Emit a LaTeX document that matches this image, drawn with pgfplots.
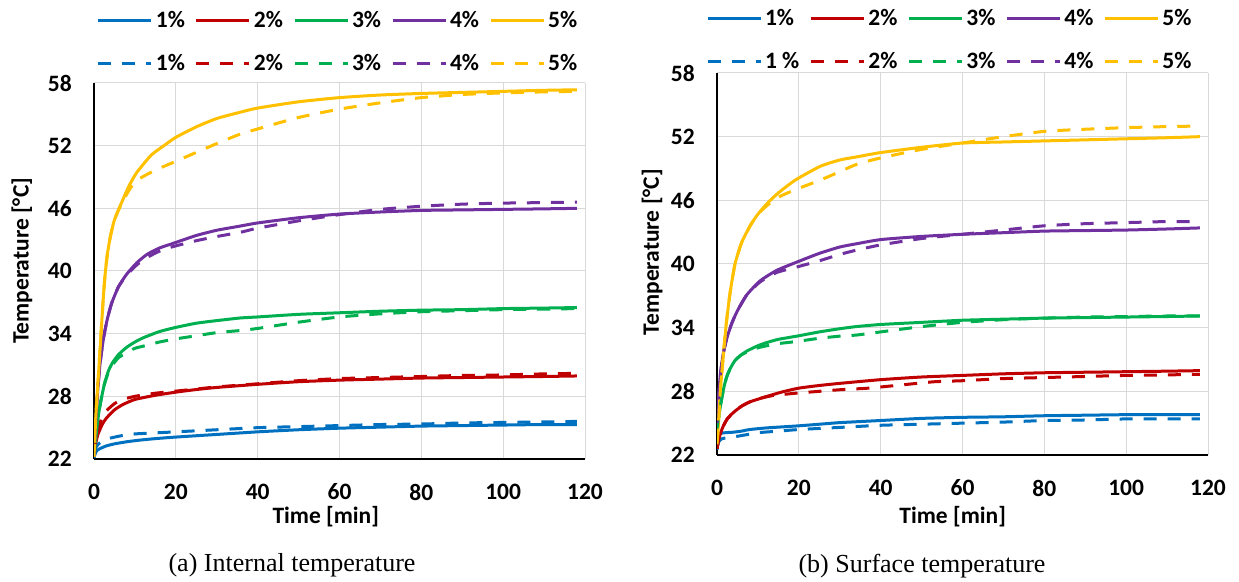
\documentclass[border=0pt]{standalone}
\usepackage{fontspec}
\setmainfont{Liberation Serif}
\newfontfamily\carl{Carlito}
\usepackage{pgfplots}
\pgfplotsset{compat=1.18}
\definecolor{c1}{HTML}{0070C0}
\definecolor{c2}{HTML}{C00000}
\definecolor{c3}{HTML}{00B050}
\definecolor{c4}{HTML}{7030A0}
\definecolor{c5}{HTML}{FFC000}
\definecolor{gridc}{HTML}{D9D9D9}
\newcommand\cf{\carl\bfseries\fontsize{23.5}{27}\selectfont}
\pgfplotsset{
 mystyle/.style={
  scale only axis, width=491pt,
  xmin=0, xmax=120, ymin=22, ymax=58,
  xtick={0,20,...,120}, ytick={22,28,...,58},
  grid=major, major grid style={gridc, line width=1pt},
  axis x line*=bottom, axis y line*=left,
  axis line style={black, line width=2pt, -},
  major tick length=0pt,
  tick label style={font=\cf},
  /pgf/number format/assume math mode=true,
  xticklabel style={anchor=center, inner sep=0pt, yshift=-33pt},
  yticklabel style={anchor=east, inner sep=0pt, xshift=-22pt},
  label style={font=\cf},
  xlabel={Time [min]}, ylabel={Temperature [°C]},
  legend columns=5, legend cell align=left,
  legend image code/.code={\draw[##1] (0pt,0pt) -- (53pt,0pt);},
  legend style={draw=none, fill=none, inner sep=0pt, outer sep=0pt, font=\cf, row sep=25pt, nodes={inner sep=0pt}, /tikz/every odd column/.append style={column sep=3pt}, /tikz/every even column/.append style={column sep=10pt}, anchor=north west},
  every axis plot/.append style={line width=3pt, line join=round, smooth, tension=0.35},
 },
 dsh/.style={dash pattern=on 13pt off 11pt},
}
\begin{document}
\begin{tikzpicture}
\path (0,0) rectangle (1239pt,581pt);
\begin{axis}[mystyle, at={(94pt,122pt)}, anchor=south west, height=376pt,
  xlabel style={at={(axis description cs:0.472,-0.154)}, anchor=center},
  ylabel style={at={(axis description cs:-0.1466,0.527)}, anchor=center},
  legend style={at={(axis description cs:0.006,1.19)}}]
% solid
\addplot[c1] coordinates {(0,22.1)(0.3,22.5)(0.7,22.8)(1.5,23.0)(3,23.25)(5,23.45)(8,23.65)(11,23.8)(15,23.95)(20,24.1)(30,24.35)(40,24.6)(50,24.8)(60,24.95)(70,25.05)(80,25.15)(90,25.2)(100,25.25)(110,25.3)(118,25.3)};
\addplot[c2] coordinates {(0,22.2)(0.3,23.2)(0.7,24.0)(1,24.4)(2,25.3)(3,25.9)(5,26.7)(7,27.2)(10,27.7)(15,28.1)(20,28.4)(25,28.65)(30,28.85)(40,29.15)(50,29.4)(60,29.55)(70,29.65)(80,29.75)(90,29.8)(100,29.85)(110,29.9)(118,29.95)};
\addplot[c3] coordinates {(0,22.2)(0.4,23.8)(0.8,25.3)(1.2,26.5)(1.7,27.6)(2.5,29.1)(3.5,30.4)(4.5,31.2)(6,32.0)(8,32.7)(10,33.2)(12,33.6)(16,34.2)(20,34.6)(25,35.0)(30,35.25)(35.7,35.5)(40,35.6)(50,35.85)(60,36.0)(70,36.15)(80,36.25)(90,36.3)(100,36.4)(110,36.45)(118,36.5)};
\addplot[c4] coordinates {(0,22.2)(0.3,24.5)(0.6,26.8)(1,29.0)(1.5,31.2)(2.3,33.5)(3.2,35.3)(4.3,36.9)(6,38.5)(8,39.7)(10.5,40.8)(13,41.6)(16,42.2)(19,42.6)(25,43.4)(30,43.9)(35.7,44.3)(40,44.6)(50,45.1)(60,45.45)(70,45.65)(80,45.8)(90,45.85)(100,45.9)(110,45.95)(118,46.0)};
\addplot[c5] coordinates {(0,22.2)(0.2,24)(0.5,26.5)(1,29.5)(1.4,32)(1.8,34.5)(2.2,37)(2.7,39.6)(3.3,41.7)(4,43.3)(5,44.9)(6.8,46.6)(8.5,48.1)(10.4,49.4)(14,51.1)(17.8,52.2)(20,52.8)(25,53.8)(30,54.6)(35.7,55.2)(40,55.6)(50,56.2)(60,56.6)(70,56.85)(80,57.0)(90,57.1)(100,57.2)(110,57.3)(118,57.35)};
% dashed
\addplot[c1,dsh] coordinates {(0,22.5)(0.3,23.0)(1,23.4)(2,23.7)(4,24.0)(7,24.25)(10,24.4)(15,24.5)(20,24.6)(30,24.8)(40,25.0)(50,25.1)(60,25.2)(70,25.3)(80,25.35)(90,25.45)(100,25.5)(110,25.55)(118,25.6)};
\addplot[c2,dsh] coordinates {(0,22.3)(0.3,23.5)(0.7,24.4)(1,24.9)(2,26.0)(3,26.6)(5,27.3)(7,27.7)(10,28.0)(15,28.3)(20,28.5)(25,28.7)(30,28.9)(40,29.2)(50,29.5)(60,29.7)(70,29.8)(80,29.9)(90,30.0)(100,30.05)(110,30.15)(118,30.2)};
\addplot[c3,dsh] coordinates {(0,22.2)(0.4,23.8)(0.8,25.3)(1.2,26.5)(1.7,27.6)(2.5,29.1)(3.5,30.3)(4.5,31.0)(6,31.7)(8,32.2)(10,32.6)(12,32.8)(16,33.2)(20,33.5)(25,33.8)(30,34.1)(35.7,34.3)(40,34.5)(50,35.1)(60,35.6)(70,35.9)(80,36.1)(90,36.2)(100,36.3)(110,36.35)(118,36.4)};
\addplot[c4,dsh] coordinates {(0,22.2)(0.3,24.5)(0.6,26.8)(1,29.0)(1.5,31.2)(2.3,33.5)(3.2,35.3)(4.3,36.9)(6,38.5)(8,39.6)(10.5,40.6)(13,41.3)(16,41.9)(19,42.3)(25,42.9)(30,43.3)(35.7,43.7)(40,44.1)(50,44.8)(60,45.4)(70,45.9)(80,46.2)(90,46.4)(100,46.5)(110,46.55)(118,46.6)};
\addplot[c5,dsh] coordinates {(0,22.2)(0.2,24)(0.5,26.5)(1,29.5)(1.4,32)(1.8,34.5)(2.2,37)(2.7,39.6)(3.3,41.7)(4,43.3)(5,44.9)(6.8,46.5)(9,48.0)(11,48.8)(13.7,49.4)(17,50.0)(20,50.5)(23.5,51.1)(30,52.2)(35.7,53.1)(40,53.6)(50,54.7)(60,55.5)(70,56.1)(80,56.6)(90,56.9)(100,57.05)(110,57.15)(118,57.2)};
\legend{1\%,2\%,3\%,4\%,5\%,1\%,2\%,3\%,4\%,5\%}
\end{axis}
\begin{axis}[mystyle, at={(717pt,126pt)}, anchor=south west, height=382pt,
  xlabel style={at={(axis description cs:0.48,-0.162)}, anchor=center},
  ylabel style={at={(axis description cs:-0.132,0.531)}, anchor=center},
  legend style={at={(axis description cs:-0.0224,1.166)}}]
% solid
\addplot[c1] coordinates {(0,22.5)(0.3,23.4)(0.7,24.0)(2,24.1)(4,24.15)(6,24.25)(8,24.4)(12,24.55)(16,24.65)(20,24.75)(25,24.9)(30,25.05)(40,25.25)(50,25.45)(60,25.55)(70,25.6)(80,25.7)(90,25.75)(100,25.8)(110,25.8)(118,25.8)};
\addplot[c2] coordinates {(0,22.6)(0.5,23.6)(1,24.2)(1.5,24.7)(2.5,25.4)(4,26.0)(6,26.6)(8,27.0)(12,27.5)(16,27.95)(20,28.3)(25,28.55)(30,28.75)(40,29.1)(50,29.35)(60,29.5)(70,29.65)(80,29.75)(90,29.8)(100,29.85)(110,29.9)(118,29.95)};
\addplot[c3] coordinates {(0,24.5)(0.5,25.8)(1,27)(1.7,28.4)(2.4,29.4)(3.3,30.2)(4.4,30.9)(5.8,31.4)(7.3,31.8)(10,32.3)(12.2,32.6)(15,32.9)(19.5,33.2)(25,33.6)(30,33.9)(34,34.1)(40,34.3)(50,34.5)(60,34.7)(70,34.8)(80,34.9)(90,34.95)(100,35.0)(110,35.05)(118,35.1)};
\addplot[c4] coordinates {(0,25)(0.4,27.5)(0.8,29.5)(1.5,31.5)(2.4,33.0)(3.6,34.4)(5,35.6)(7.3,37.1)(10.5,38.4)(14.6,39.4)(20.3,40.3)(25,41.0)(30,41.6)(34,41.9)(40,42.3)(50,42.6)(60,42.8)(70,42.95)(80,43.1)(90,43.15)(100,43.2)(110,43.3)(118,43.4)};
\addplot[c5] coordinates {(0,23)(0.3,24.6)(0.8,28)(1.5,31.2)(2.3,34.5)(3.2,37.3)(4.4,40.0)(6,42.0)(8.1,43.6)(10,44.7)(12.5,45.8)(15,46.7)(19.1,47.9)(25.2,49.2)(30,49.8)(34.2,50.1)(40,50.5)(50,51.0)(60,51.4)(70,51.5)(80,51.6)(90,51.7)(100,51.8)(110,51.9)(118,52.0)};
% dashed
\addplot[c1,dsh] coordinates {(0,22.8)(0.5,23.3)(1,23.5)(2,23.6)(4,23.7)(7,23.9)(10,24.1)(15,24.25)(20,24.4)(30,24.6)(40,24.8)(50,24.9)(60,25.0)(70,25.1)(80,25.25)(90,25.3)(100,25.4)(110,25.4)(118,25.4)};
\addplot[c2,dsh] coordinates {(0,22.6)(0.5,23.6)(1,24.2)(1.5,24.7)(2.5,25.4)(4,26.0)(6,26.6)(8,27.0)(10,27.3)(13.6,27.6)(16,27.7)(20,27.85)(25,28.0)(30,28.15)(37,28.3)(45,28.6)(53,28.9)(60,29.0)(70,29.2)(80,29.3)(90,29.4)(100,29.5)(110,29.55)(118,29.6)};
\addplot[c3,dsh] coordinates {(0,24.5)(0.5,25.8)(1,27)(1.7,28.4)(2.4,29.4)(3.3,30.2)(4.4,30.9)(5.8,31.4)(7.3,31.7)(10,32.1)(12.2,32.3)(15,32.5)(19.5,32.7)(25,33.0)(30,33.2)(34,33.3)(40,33.6)(50,34.1)(60,34.5)(70,34.75)(80,34.9)(90,35.0)(100,35.05)(110,35.1)(118,35.1)};
\addplot[c4,dsh] coordinates {(0,25)(0.4,27.5)(0.8,29.5)(1.5,31.5)(2.4,33.0)(3.6,34.4)(5,35.6)(7.3,37.1)(10.5,38.3)(14.6,39.2)(20.3,39.8)(25,40.3)(30,40.9)(34,41.3)(40,41.8)(50,42.4)(60,42.8)(70,43.2)(80,43.6)(90,43.8)(100,43.9)(110,44.0)(118,44.0)};
\addplot[c5,dsh] coordinates {(0,23)(0.3,24.6)(0.8,28)(1.5,31.2)(2.3,34.5)(3.2,37.3)(4.4,40.0)(6,42.0)(8.1,43.6)(10,44.7)(12.5,45.6)(15,46.3)(19.1,47.0)(25.2,47.9)(30,48.7)(34.2,49.4)(40,50.0)(50,50.8)(60,51.4)(70,52.0)(80,52.5)(90,52.7)(100,52.85)(110,52.95)(118,53.0)};
\legend{1\%,2\%,3\%,4\%,5\%,1 \%,2\%,3\%,4\%,5\%}
\end{axis}
\node[font=\fontsize{26}{30}\selectfont, anchor=base] at (292pt,9pt) {(a) Internal temperature};
\node[font=\fontsize{26}{30}\selectfont, anchor=base] at (922pt,8pt) {(b) Surface temperature};
\end{tikzpicture}
\end{document}
